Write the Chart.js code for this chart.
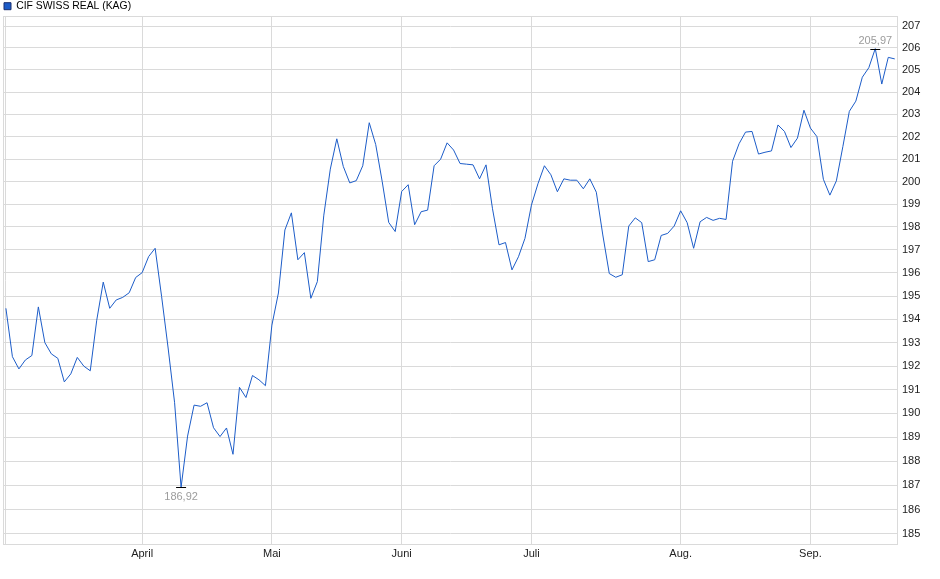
<!DOCTYPE html>
<html>
<head>
<meta charset="utf-8">
<script src="https://cdn.jsdelivr.net/npm/chart.js@4.4.1/dist/chart.umd.min.js"></script>
<style>
  html, body { margin: 0; padding: 0; background: #fff; }
  #wrap { width: 940px; height: 579px; }
</style>
</head>
<body>
<div id="wrap"><canvas id="chart" width="940" height="579"></canvas></div>
<script>
const SERIES_NAME = 'CIF SWISS REAL (KAG)';
const LINE_COLOR = '#1c5cc8';
const GRID_COLOR = '#dadada';

// daily closes, one per trading day (March .. mid September)
const prices = [
  194.47, 192.40, 191.88, 192.26, 192.45, 194.53, 193.00, 192.52, 192.33, 191.33,
  191.67, 192.37, 192.00, 191.80, 193.96, 195.60, 194.47, 194.83, 194.94, 195.14,
  195.80, 196.01, 196.71, 197.07, 194.97, 192.77, 190.45, 186.92, 189.05, 190.35,
  190.30, 190.45, 189.40, 189.03, 189.39, 188.29, 191.10, 190.67, 191.60, 191.42,
  191.17, 193.75, 195.13, 197.87, 198.62, 196.57, 196.88, 194.90, 195.62, 198.52,
  200.55, 201.90, 200.67, 199.94, 200.04, 200.70, 202.62, 201.64, 200.00, 198.20,
  197.80, 199.56, 199.86, 198.10, 198.67, 198.74, 200.70, 200.99, 201.72, 201.40,
  200.80, 200.77, 200.74, 200.12, 200.74, 198.80, 197.22, 197.32, 196.13, 196.70,
  197.50, 198.96, 199.90, 200.70, 200.30, 199.55, 200.12, 200.06, 200.06, 199.68,
  200.12, 199.53, 197.65, 195.97, 195.81, 195.92, 198.04, 198.40, 198.19, 196.49,
  196.57, 197.63, 197.72, 198.04, 198.71, 198.19, 197.07, 198.23, 198.42, 198.29,
  198.38, 198.33, 200.90, 201.68, 202.20, 202.23, 201.22, 201.30, 201.36, 202.52,
  202.23, 201.51, 201.93, 203.18, 202.38, 202.00, 200.10, 199.40, 200.03, 201.55,
  203.13, 203.59, 204.67, 205.10, 205.97, 204.36, 205.57, 205.50,
];

// index of the first trading day of each month, with its label
const monthStarts = [0, 21, 41, 61, 81, 104, 124];
const monthLabels = ['', 'April', 'Mai', 'Juni', 'Juli', 'Aug.', 'Sep.'];

const yTicks = [
  185, 186, 187, 188, 189, 190, 191, 192, 193, 194, 195, 196,
  197, 198, 199, 200, 201, 202, 203, 204, 205, 206, 207,
];

const points = prices.map((value, i) => ({ x: i, y: value }));

const fmt = (v) => v.toFixed(2).replace('.', ',');

const frame = {
  id: 'frame',
  beforeDatasetsDraw(chart) {
    const { ctx, chartArea: a } = chart;
    ctx.save();
    ctx.strokeStyle = GRID_COLOR;
    ctx.lineWidth = 1;
    ctx.strokeRect(Math.round(a.left) + 0.5, Math.round(a.top) + 0.5,
      Math.round(a.right - a.left) - 1, Math.round(a.bottom - a.top) - 1);
    ctx.restore();
  },
};

const extremes = {
  id: 'extremes',
  afterDatasetsDraw(chart) {
    const { ctx } = chart;
    const meta = chart.getDatasetMeta(0);
    let lo = 0;
    let hi = 0;
    prices.forEach((v, i) => {
      if (v < prices[lo]) lo = i;
      if (v > prices[hi]) hi = i;
    });
    ctx.save();
    ctx.font = '11px "Liberation Sans", Arial, sans-serif';
    ctx.textAlign = 'center';
    ctx.strokeStyle = '#000';
    ctx.lineWidth = 1;
    [[lo, 'top'], [hi, 'bottom']].forEach(([i, base]) => {
      const p = meta.data[i];
      const y = Math.round(p.y) + 0.5;
      ctx.beginPath();
      ctx.moveTo(p.x - 5, y);
      ctx.lineTo(p.x + 5, y);
      ctx.stroke();
      ctx.fillStyle = '#9c9c9c';
      ctx.textBaseline = base;
      ctx.fillText(fmt(prices[i]), p.x, base === 'top' ? y + 4 : y - 3);
    });
    ctx.restore();
  },
};

new Chart(document.getElementById('chart'), {
  type: 'line',
  data: {
    datasets: [
      {
        label: SERIES_NAME,
        data: points,
        borderColor: LINE_COLOR,
        backgroundColor: LINE_COLOR,
        borderWidth: 1,
        pointRadius: 0,
        tension: 0,
        fill: false,
      },
    ],
  },
  options: {
    responsive: false,
    animation: false,
    events: [],
    layout: { padding: { left: 3, right: 0, top: 0, bottom: 0 } },
    scales: {
      x: {
        type: 'linear',
        min: -0.45,
        max: 137.5,
        afterBuildTicks: (scale) => {
          scale.ticks = monthStarts.map((v) => ({ value: v }));
        },
        afterFit: (scale) => {
          scale.height = 34;
        },
        grid: { color: GRID_COLOR, drawTicks: false },
        border: { display: false },
        ticks: {
          padding: 2,
          color: '#222',
          font: { family: '"Liberation Sans", Arial, sans-serif', size: 11 },
          maxRotation: 0,
          autoSkip: false,
          callback: (v) => monthLabels[monthStarts.indexOf(v)] ?? '',
        },
      },
      y: {
        type: 'logarithmic',
        position: 'right',
        min: 184.55,
        max: 207.46,
        afterBuildTicks: (scale) => {
          scale.ticks = yTicks.map((v) => ({ value: v }));
        },
        afterFit: (scale) => {
          scale.width = 42;
        },
        grid: { color: GRID_COLOR, drawTicks: false },
        border: { display: false },
        ticks: {
          padding: 4,
          color: '#222',
          font: { family: '"Liberation Sans", Arial, sans-serif', size: 11 },
          autoSkip: false,
          callback: (v) => String(v),
        },
      },
    },
    plugins: {
      legend: {
        display: true,
        position: 'top',
        align: 'start',
        maxHeight: 16,
        labels: {
          boxWidth: 7,
          boxHeight: 7,
          padding: 1,
          color: '#000',
          font: { family: '"Liberation Sans", Arial, sans-serif', size: 10.4 },
          generateLabels: () => [
            {
              text: SERIES_NAME,
              fillStyle: LINE_COLOR,
              strokeStyle: '#1b2f6e',
              lineWidth: 1,
              hidden: false,
              datasetIndex: 0,
            },
          ],
        },
      },
      tooltip: { enabled: false },
    },
  },
  plugins: [frame, extremes],
});
</script>
</body>
</html>
